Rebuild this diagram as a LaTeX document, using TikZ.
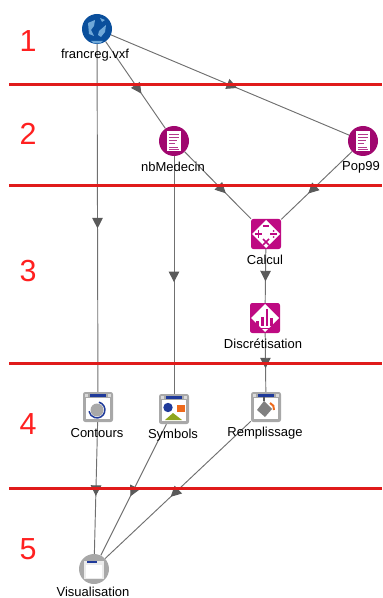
\documentclass[tikz,border=0pt]{standalone}
\usepackage{fontspec}
\setmainfont{Liberation Sans}
\usetikzlibrary{arrows.meta, decorations.markings, shapes.geometric}

\definecolor{redline}{HTML}{E01B1B}
\definecolor{rednum}{HTML}{FF2020}
\definecolor{linegray}{HTML}{707070}
\definecolor{tipgray}{HTML}{5A5A5A}
\definecolor{plum}{HTML}{A0076F}
\definecolor{magentabox}{HTML}{BE0A82}
\definecolor{globeblue}{HTML}{0A4F9C}
\definecolor{globelight}{HTML}{6FA8D8}
\definecolor{framegray}{HTML}{A8A8A8}
\definecolor{barblue}{HTML}{1F3A9A}
\definecolor{shapeorange}{HTML}{EE6A1C}
\definecolor{shapegreen}{HTML}{8FA51E}

\tikzset{
    iconround/.style={circle, minimum size=30*0.03cm, inner sep=0pt},
    iconsquare/.style={rectangle, minimum size=30*0.03cm, inner sep=0pt},
    caption/.style={font=\fontsize{11.1}{12}\selectfont, text=black, inner sep=0pt},
    levelnum/.style={font=\fontsize{26}{28}\selectfont, text=rednum, inner sep=0pt},
    level/.style={draw=redline, line width=3*0.03cm},
    flow/.style={draw=linegray, line width=0.8pt, postaction={decorate},
        decoration={markings, mark=at position #1 with
            {\arrow[tipgray]{Triangle[length=9pt, width=9pt]}}}},
}

% white window, optional title bar
\newcommand{\windowicon}[1]{
    \begin{scope}[shift={(#1)}]
        \fill [framegray, rounded corners=2] (-15, -15) rectangle (15, 15);
        \fill [white] (-12, -9) rectangle (12, 12);
        \fill [barblue] (-8, -13.5) rectangle (8, -10);
        \fill [white!85!black] (-13, -13) rectangle (-10, -10);
        \fill [white!85!black] (10, -13) rectangle (13, -10);
    \end{scope}
}
\newcommand{\docicon}[1]{
    \begin{scope}[shift={(#1)}]
        \fill [plum] (0, 0) circle [radius=15];
        \fill [white] (-7, -10) rectangle (7, 10);
        \foreach \y/\w in {-7/5, -4/5, -1/3, 2/1, 6/4, 8/5}
            \draw [plum!80!white, line width=0.9*0.03cm] (-5, \y) -- (\w, \y);
    \end{scope}
}

\begin{document}
\begin{tikzpicture}[x=0.03cm, y=-0.03cm]

\useasboundingbox (0, 0) rectangle (382, 598);

% icons
\node [iconround] (francreg) at (97, 29) {};
\node [iconround] (nbMedecin) at (174, 141) {};
\node [iconround] (Pop) at (363, 141) {};
\node [iconsquare] (Calcul) at (266, 234) {};
\node [iconsquare] (Discret) at (265, 318) {};
\node [iconsquare] (Contours) at (98, 407) {};
\node [iconsquare] (Symbols) at (174, 409) {};
\node [iconsquare] (Remplissage) at (266, 407) {};
\node [iconround] (Visualisation) at (94, 569) {};


% connectors
\begin{scope}
    \draw [flow=0.53] (francreg) -- (Contours);
    \draw [flow=0.6] (francreg) -- (nbMedecin);
    \draw [flow=0.53] (francreg) -- (Pop);
    \draw [flow=0.53] (nbMedecin) -- (Symbols);
    \draw [flow=0.62] (nbMedecin) -- (Calcul);
    \draw [flow=0.62] (Pop) -- (Calcul);
    \draw [flow=0.6] (Calcul) -- (Discret);
    \draw [flow=0.6] (Discret) -- (Remplissage);
    \draw [flow=0.56] (Contours) -- (Visualisation);
    \draw [flow=0.55] (Symbols) -- (Visualisation);
    \draw [flow=0.55] (Remplissage) -- (Visualisation);
\end{scope}


% levels
\begin{scope}
    \coordinate (a1) at (9, 85);
    \coordinate (b1) at (382, 85);
    \coordinate (a2) at (9, 186);
    \coordinate (b2) at (382, 186);
    \coordinate (a3) at (9, 363);
    \coordinate (b3) at (382, 363);
    \coordinate (a4) at (9, 488);
    \coordinate (b4) at (382, 488);
    \foreach \i in {1, 2, 3, 4}
        \draw [level] (a\i) -- (b\i);
    \node [levelnum] (n1) at (28, 41) {1};
    \node [levelnum] (n2) at (28, 134) {2};
    \node [levelnum] (n3) at (28, 271) {3};
    \node [levelnum] (n4) at (28, 424) {4};
    \node [levelnum] (n5) at (28, 549) {5};
\end{scope}


% globe
\begin{scope}[shift={(francreg.center)}]
    \fill [globeblue] (0, 0) circle [radius=15];
    \fill [globelight] (-9, -6) -- (-2, -9) -- (-3, -3) -- (-6, 1) -- (-3, 7) -- (-8, 5) -- cycle;
    \fill [globelight] (2, 2) -- (9, -4) -- (8, 3) -- (4, 8) -- (1, 6) -- cycle;
    \fill [globelight] (-6, 12) -- (6, 12) -- (3, 14.5) -- (-3, 14.5) -- cycle;
    \fill [globelight] (3, -11) -- (8, -9) -- (5, -7) -- cycle;
\end{scope}


% documents
\docicon{nbMedecin.center}
\docicon{Pop.center}


% calcul
\begin{scope}[shift={(Calcul.center)}]
    \fill [magentabox, rounded corners=2] (-15, -15) rectangle (15, 15);
    \fill [white] (0, -14) -- (14, 0) -- (0, 14) -- (-14, 0) -- cycle;
    \begin{scope}[magentabox, line width=1.6*0.03cm]
        \draw (-3, -8) -- (3, -8);
        \draw (-11, 0) -- (-4, 0) (-7.5, -3.5) -- (-7.5, 3.5);
        \draw (4, 0) -- (11, 0);
        \draw (-3, 5) -- (3, 11) (3, 5) -- (-3, 11);
    \end{scope}
    \fill [magentabox] (7.5, -3) circle [radius=1] (7.5, 3) circle [radius=1];
\end{scope}


% discretisation
\begin{scope}[shift={(Discret.center)}]
    \fill [magentabox, rounded corners=2] (-15, -15) rectangle (15, 15);
    \fill [white] (0, -14) -- (14, 0) -- (0, 14) -- (-14, 0) -- cycle;
    \fill [magentabox] (-9, 3) rectangle (-6, 8);
    \fill [magentabox] (-4, -1) rectangle (-1, 8);
    \fill [magentabox] (1, -9) rectangle (3, 8);
    \fill [magentabox] (5, 0) rectangle (8, 8);
    \fill [magentabox] (-6, 9.5) rectangle (6, 11);
\end{scope}


% windows
\windowicon{Contours.center}
\windowicon{Symbols.center}
\windowicon{Remplissage.center}

\begin{scope}[shift={(Contours.center)}]
    \fill [framegray] (-1, 3) circle [radius=6.5];
    \draw [barblue, line width=1.5*0.03cm] (1, -4.8) arc [start angle=-75, end angle=170, radius=8];
\end{scope}

\begin{scope}[shift={(Symbols.center)}]
    \fill [barblue] (-6, -1.5) circle [radius=4.7];
    \fill [shapeorange] (3, -4) rectangle (11, 3);
    \fill [shapegreen] (-9, 11) -- (-1, 4) -- (8, 11) -- cycle;
\end{scope}

\begin{scope}[shift={(Remplissage.center)}]
    \fill [gray] (-9, 3) -- (-2, -6) -- (6, 2) -- (-1, 10) -- cycle;
    \draw [gray!70!black, line width=1.5*0.03cm] (-2, -6) -- (-2, -10);
    \draw [shapeorange, line width=2*0.03cm] (4, -4) to [bend left=40] (8, 3);
\end{scope}


% visualisation
\begin{scope}[shift={(Visualisation.center)}]
    \fill [framegray] (0, 0) circle [radius=15];
    \fill [white!92!black] (-10, -8) rectangle (10, 10);
    \fill [white] (-8, -4) rectangle (8, 9);
    \fill [barblue] (-7, -8) rectangle (3, -6);
\end{scope}


% captions
\node [caption] (lfrancreg) at (95, 55) {francreg.vxf};
\node [caption] (lnbMedecin) at (173, 167) {nbMedecin};
\node [caption] (lPop) at (361, 167) {Pop99};
\node [caption] (lCalcul) at (265, 260) {Calcul};
\node [caption] (lDiscret) at (263, 344) {Discrétisation};
\node [caption] (lContours) at (97, 433) {Contours};
\node [caption] (lSymbols) at (173, 435) {Symbols};
\node [caption] (lRemplissage) at (265, 433) {Remplissage};
\node [caption] (lVisualisation) at (93, 592) {Visualisation};

\end{tikzpicture}
\end{document}
